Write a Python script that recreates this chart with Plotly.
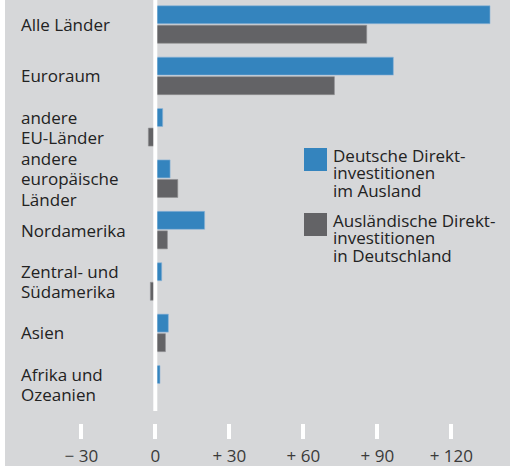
import plotly.graph_objects as go

BG = "#d6d7d9"
BLUE = "#3484be"
GREY = "#636366"
FONT = "Open Sans"

# Regions (top to bottom), line breaks as in the original
regions = ["Alle Länder", "Euroraum", "andere<br>EU-Länder",
           "andere<br>europäische<br>Länder", "Nordamerika",
           "Zentral- und<br>Südamerika", "Asien", "Afrika und<br>Ozeanien"]
# Direktinvestitionen, Mrd Euro
deutsche_im_ausland = [135.7, 96.5, 3.0, 6.0, 20.0, 2.6, 5.3, 1.9]
auslaendische_in_de = [85.7, 72.6, -2.8, 9.1, 4.9, -2.0, 4.1, 0.0]

tick_vals = [-30, 0, 30, 60, 90, 120]
tick_text = ["\u2212 30", "0", "+ 30", "+ 60", "+ 90", "+ 120"]

legend_names = ["Deutsche Direkt-<br>investitionen<br>im Ausland",
                "Ausländische Direkt-<br>investitionen<br>in Deutschland"]

pos = list(range(len(regions)))

fig = go.Figure()
fig.add_trace(go.Bar(y=pos, x=deutsche_im_ausland, orientation="h",
                     marker=dict(color=BLUE, line=dict(color="#8fb6d8", width=0.6)),
                     name="Deutsche Direktinvestitionen im Ausland"))
fig.add_trace(go.Bar(y=pos, x=auslaendische_in_de, orientation="h",
                     marker=dict(color=GREY, line=dict(color="#8d8d90", width=0.6)),
                     name="Ausländische Direktinvestitionen in Deutschland"))

# plot area: 505 x 423 px; 51.4 px per region, 2.467 px per unit
px_per_cat = 51.4
y_top = -24.5 / px_per_cat
y_bot = (423 - 24.5) / px_per_cat

annotations = []
# region labels, one annotation per line to get the tight leading
line_h = 20.5
for i, lab in enumerate(regions):
    lines = lab.split("<br>")
    n = len(lines)
    for j, ln in enumerate(lines):
        annotations.append(dict(
            x=13.5 / 505, xref="paper", xanchor="left",
            y=i, yref="y", yanchor="middle",
            yshift=-(j - (n - 1) / 2) * line_h,
            text=ln, showarrow=False,
            font=dict(family=FONT, size=17, color="#222222")))

# hand-made legend
shapes = []
leg_top = [148, 213]
leg_cols = [BLUE, GREY]
for k, name in enumerate(legend_names):
    t = leg_top[k]
    shapes.append(dict(type="rect", xref="paper", yref="paper",
                       x0=(304 - 5) / 505, x1=(327 - 5) / 505,
                       y0=1 - (t + 23) / 423, y1=1 - t / 423,
                       fillcolor=leg_cols[k], line=dict(width=0)))
    for j, ln in enumerate(name.split("<br>")):
        yc = t + 7 + j * 17.5
        annotations.append(dict(
            x=(331 - 5) / 505, xref="paper", xanchor="left",
            y=1 - yc / 423, yref="paper", yanchor="middle",
            text=ln, showarrow=False,
            font=dict(family=FONT, size=17, color="#222222")))

# grey backdrop behind the tick area
shapes.append(dict(type="rect", xref="paper", yref="paper", layer="below",
                   x0=0, x1=1, y0=-43 / 423, y1=1,
                   fillcolor=BG, line=dict(width=0)))
# white zero line (stops above the ticks)
shapes.append(dict(type="line", xref="x", yref="y", x0=0, x1=0,
                   y0=y_top, y1=(411 - 24.5) / px_per_cat,
                   line=dict(color="white", width=4)))

fig.update_layout(
    width=510, height=468,
    margin=dict(l=5, r=0, t=0, b=45),
    paper_bgcolor="white", plot_bgcolor=BG,
    barmode="group", bargap=0.24, bargroupgap=0.08,
    showlegend=False,
    shapes=shapes, annotations=annotations,
    font=dict(family=FONT),
)
fig.update_xaxes(range=[-150.3 / 2.4667, 354.7 / 2.4667],
                 tickvals=tick_vals, ticktext=tick_text,
                 ticks="outside", ticklen=15, tickwidth=4, tickcolor="white",
                 ticklabelstandoff=3,
                 tickfont=dict(family=FONT, size=17, color="#3a3a3a"),
                 showgrid=False, zeroline=False, showline=False)
fig.update_yaxes(range=[y_bot, y_top], showticklabels=False,
                 showgrid=False, zeroline=False, showline=False)

# drop the default page margin so the figure sits at the window's corner
fig.write_html("out.html", config={"displayModeBar": False},
               post_script="document.body.style.margin='0px';")
